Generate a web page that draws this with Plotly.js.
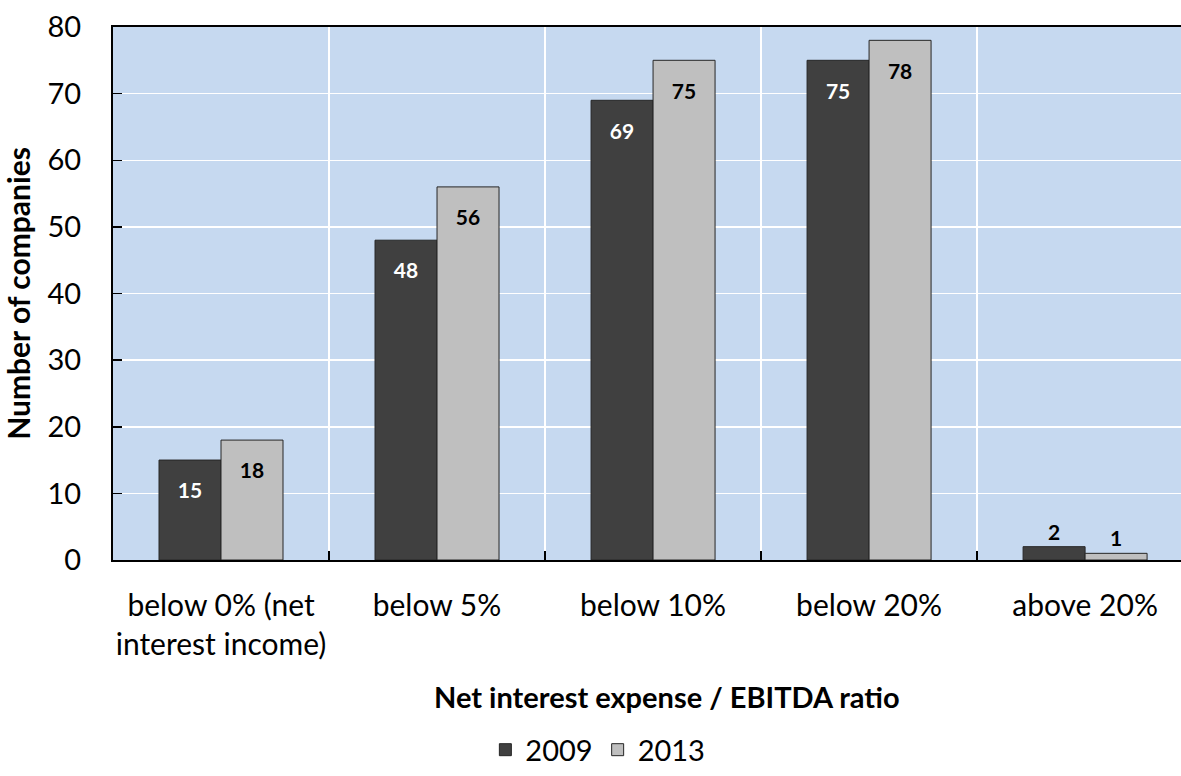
<!DOCTYPE html>
<html><head><meta charset="utf-8">
<script src="https://cdn.plot.ly/plotly-3.0.1.min.js"></script>
<style>html,body{margin:0;padding:0;background:#fff}#chart{width:1181px;height:776px}</style>
</head><body><div id="chart"></div>
<script>
var categories = ["below 0% (net<br>interest income)", "below 5%", "below 10%", "below 20%", "above 20%"];
var series2009 = [15, 48, 69, 75, 2];
var series2013 = [18, 56, 75, 78, 1];
var yTicks = [0, 10, 20, 30, 40, 50, 60, 70, 80];
var xTitle = "Net interest expense / EBITDA ratio";
var yTitle = "Number of companies";

var font = "Lato, 'Open Sans', sans-serif";
function pos(vals){ return vals.map(function(v){ return v < 5 ? "outside" : "inside"; }); }
function lbl(vals){ return vals.map(function(v){ return v < 5 ? String(v) : "<span style='font-size:8px'>\u00a0</span><br>" + v; }); }

var traces = [
  {type:"bar", name:"2009", x:categories, y:series2009, text:lbl(series2009),
   textposition:pos(series2009), insidetextanchor:"end", textangle:0, constraintext:"none",
   insidetextfont:{color:"#ffffff", size:21, family:font, weight:"bold"},
   outsidetextfont:{color:"#000000", size:21, family:font, weight:"bold"},
   marker:{color:"#404040", line:{color:"#262626", width:1}}, cliponaxis:false},
  {type:"bar", name:"2013", x:categories, y:series2013, text:lbl(series2013),
   textposition:pos(series2013), insidetextanchor:"end", textangle:0, constraintext:"none",
   insidetextfont:{color:"#000000", size:21, family:font, weight:"bold"},
   outsidetextfont:{color:"#000000", size:21, family:font, weight:"bold"},
   marker:{color:"#bfbfbf", line:{color:"#262626", width:1}}, cliponaxis:false}
];

var layout = {
  width:1181, height:776,
  margin:{l:113, r:0, t:27, b:216},
  paper_bgcolor:"#ffffff", plot_bgcolor:"#c6d9f0",
  barmode:"group", bargap:0.426, bargroupgap:0,
  font:{family:font, color:"#000", size:29},
  xaxis:{type:"category", range:[-0.5, 4.444], tickson:"boundaries", tickangle:0,
    showgrid:true, gridcolor:"#ffffff", gridwidth:1.5,
    ticks:"inside", ticklen:9, tickcolor:"#000", tickwidth:1.5,
    showline:true, linecolor:"#000", linewidth:2, mirror:true,
    tickfont:{size:30, family:font}, ticklabelstandoff:18, automargin:false},
  yaxis:{range:[0,80], tickvals:yTicks, showgrid:true, gridcolor:"#ffffff", gridwidth:1.5,
    ticks:"inside", ticklen:9, tickcolor:"#000", tickwidth:1.5,
    showline:true, linecolor:"#000", linewidth:2, zeroline:false,
    tickfont:{size:29, family:font}, ticklabelstandoff:24, automargin:false,
    title:{text:yTitle, font:{size:30, family:font, weight:"bold"}, standoff:14}},
  annotations:[{text:xTitle, xref:"paper", yref:"paper", x:0.519, y:-0.257,
    xanchor:"center", yanchor:"middle", showarrow:false,
    font:{size:29, family:font, weight:"bold", color:"#000"}}],
  legend:{orientation:"h", x:0.454, xanchor:"center", y:-0.404, yanchor:"bottom",
    font:{size:29, family:font}, traceorder:"normal", itemwidth:30},
  showlegend:true
};

Plotly.newPlot("chart", traces, layout, {displayModeBar:false, staticPlot:true});
</script></body></html>
